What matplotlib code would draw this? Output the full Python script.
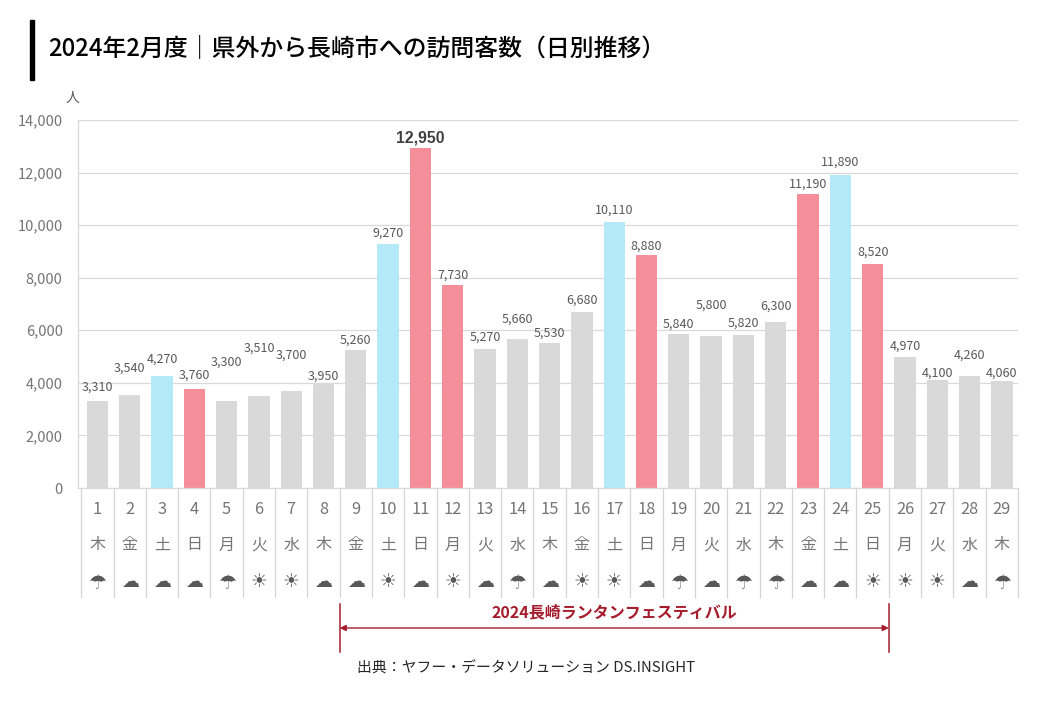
import matplotlib
matplotlib.use("Agg")
import matplotlib.pyplot as plt
from matplotlib.lines import Line2D
from matplotlib.patches import Rectangle
from matplotlib.ticker import FuncFormatter

plt.rcParams['font.family'] = ['Noto Sans CJK JP', 'DejaVu Sans']

days = list(range(1, 30))
weekdays = ['木', '金', '土', '日', '月', '火', '水', '木', '金', '土', '日', '月', '火', '水', '木',
            '金', '土', '日', '月', '火', '水', '木', '金', '土', '日', '月', '火', '水', '木']
visitors = [3310, 3540, 4270, 3760, 3300, 3510, 3700, 3950, 5260, 9270, 12950, 7730, 5270, 5660, 5530,
            6680, 10110, 8880, 5840, 5800, 5820, 6300, 11190, 11890, 8520, 4970, 4100, 4260, 4060]
weather = ['☂', '☁', '☁', '☁', '☂', '☀', '☀', '☁', '☁', '☀', '☁', '☀', '☁', '☂', '☁',
           '☀', '☀', '☁', '☂', '☁', '☂', '☂', '☁', '☁', '☀', '☀', '☀', '☁', '☂']
holidays = [12, 23]
festival_days = (9, 25)

# gap in px between bar top and the centre of its label, labels were moved by hand in the original
label_gaps = [14, 27, 17, 14, 39, 48, 36, 8, 10, 11, 10, 10, 12, 20, 9,
              12, 12, 8, 10, 30, 12, 16, 10, 13, 12, 11, 7, 21, 8]

W, H = 1040, 720
GRAY = '#595959'
SOFT = '#757575'
LINE = '#d9d9d9'
RED = '#a51c2c'
# size and vertical centre (px) of each weather glyph
ICON_STYLE = {'☂': (14.5, 583), '☁': (13, 582), '☀': (13.5, 582)}


def fx(px):
    return px / W


def fy(py):
    return 1 - py / H


def bar_color(day, wd):
    if wd == '土':
        return '#b3e9f9'
    if wd == '日' or day in holidays:
        return '#f58e98'
    return '#d9d9d9'


fig = plt.figure(figsize=(W / 100, H / 100), dpi=100, facecolor='white')
ax = fig.add_axes([fx(78), fy(488), fx(1018 - 78), (488 - 120) / H])

colors = [bar_color(d, w) for d, w in zip(days, weekdays)]
ax.bar(days, visitors, width=0.66, color=colors, zorder=2)
ax.set_xlim(0.4, 29.5)
ax.set_ylim(0, 14000)
ax.set_yticks(range(0, 14001, 2000))
ax.yaxis.set_major_formatter(FuncFormatter(lambda v, p: f'{int(v):,}'))
ax.set_xticks([])
ax.tick_params(axis='y', length=0, pad=11, labelsize=10.5, labelcolor=SOFT)
ax.grid(axis='y', color=LINE, linewidth=0.9, zorder=0)
ax.set_axisbelow(True)
for side in ['top', 'right']:
    ax.spines[side].set_visible(False)
for side in ['left', 'bottom']:
    ax.spines[side].set_color(LINE)
    ax.spines[side].set_linewidth(0.9)

# data labels
for d, v, gap in zip(days, visitors, label_gaps):
    peak = v == max(visitors)
    if peak:
        ax.annotate(f'{v:,}', (d, v), xytext=(0, gap * 0.72), textcoords='offset points',
                    ha='center', va='center', color='#404040', fontsize=11.3, fontweight='bold',
                    family='Liberation Sans')
    else:
        ax.annotate(f'{v:,}', (d, v), xytext=(0, gap * 0.72), textcoords='offset points',
                    ha='center', va='center', color=GRAY, fontsize=9)

# table under the axis
trf = matplotlib.transforms.blended_transform_factory(ax.transData, fig.transFigure)
for i in range(len(days) + 1):
    ax.add_line(Line2D([i + 0.5, i + 0.5], [fy(489), fy(597)], transform=trf, color='#d4d4d4',
                       linewidth=0.9, clip_on=False))
for d, w, sky in zip(days, weekdays, weather):
    size, icon_y = ICON_STYLE[sky]
    ax.text(d, fy(509), str(d), transform=trf, ha='center', va='center', fontsize=11.8, color=SOFT)
    ax.text(d, fy(545), w, transform=trf, ha='center', va='center', fontsize=11.5, color=SOFT)
    ax.text(d, fy(icon_y), sky, transform=trf, ha='center', va='center', fontsize=size, color=GRAY,
            family='DejaVu Sans')

# festival span
x0, x1 = festival_days[0] - 0.5, festival_days[1] + 0.5
for x in (x0, x1):
    ax.add_line(Line2D([x, x], [fy(604), fy(652)], transform=trf, color=RED, linewidth=1.1, clip_on=False))
ax.annotate('', xy=(x1, fy(628)), xytext=(x0, fy(628)), xycoords=trf, textcoords=trf,
            arrowprops=dict(arrowstyle='<|-|>', color=RED, linewidth=1.0, shrinkA=0, shrinkB=0, mutation_scale=9))
ax.text((x0 + x1) / 2, fy(612.5), '2024長崎ランタンフェスティバル', transform=trf, ha='center', va='center',
        fontsize=11.5, fontweight='bold', color=RED)

# title block
fig.add_artist(Rectangle((fx(30), fy(80)), fx(4), 60 / H, transform=fig.transFigure, color='black'))
fig.text(fx(48), fy(48), '2024年2月度｜県外から長崎市への訪問客数（日別推移）', ha='left', va='center',
         fontsize=17.2, fontweight='medium', color='black')
fig.text(fx(72), fy(98), '人', ha='center', va='center', fontsize=10, color=GRAY)
fig.text(fx(526), fy(668), '出典：ヤフー・データソリューション DS.INSIGHT', ha='center', va='center',
         fontsize=10.7, color='#262626')

fig.savefig('out.png', dpi=100)
